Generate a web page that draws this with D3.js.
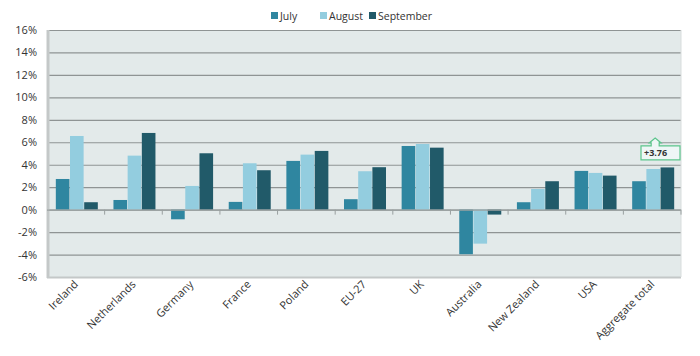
<!DOCTYPE html>
<html><head><meta charset="utf-8">
<script src="https://cdn.jsdelivr.net/npm/d3@7"></script>
<style>body{margin:0;background:#fff}svg{display:block}text{font-family:"Open Sans",sans-serif;}</style>
</head><body><div id="c"></div>
<script>
const categories = ["Ireland","Netherlands","Germany","France","Poland","EU-27","UK","Australia","New Zealand","USA","Aggregate total"];
const seriesNames = ["July","August","September"];
const july = [2.73,0.86,-0.86,0.69,4.34,0.93,5.67,-3.97,0.66,3.45,2.53];
const august = [6.56,4.81,2.11,4.13,4.90,3.42,5.85,-3.03,1.84,3.27,3.62];
const september = [0.66,6.83,5.02,3.51,5.23,3.78,5.52,-0.44,2.53,3.03,3.76];
const yTicks = [-6,-4,-2,0,2,4,6,8,10,12,14,16];
const colors = ["#2f86a0","#93cddf","#215a69"];
const annotation = {category:"Aggregate total", text:"+3.76"};

const W=700,H=356, L=47, R=681, T=30, B=277;
const svg=d3.select("#c").append("svg").attr("width",W).attr("height",H);
const x=d3.scaleBand().domain(categories).range([L,R]);
const y=d3.scaleLinear().domain([-6,16]).range([B,T]);
const xs=d3.scaleBand().domain(seriesNames).range([0,42]).paddingInner(0.04);
const data=[july,august,september];

svg.append("rect").attr("x",L).attr("y",T).attr("width",R-L).attr("height",B-T).attr("fill","#e3eaea");
svg.append("g").selectAll("line").data(yTicks).join("line")
 .attr("x1",L).attr("x2",R).attr("y1",d=>y(d)+0.5).attr("y2",d=>y(d)+0.5)
 .attr("stroke",d=>d===-6?"#c4c8c8":"#8f9494").attr("stroke-width",d=>d===-6?2:1.2);
svg.append("line").attr("x1",L+1).attr("x2",L+1).attr("y1",T).attr("y2",B+1).attr("stroke","#c4c8c8").attr("stroke-width",3);
svg.append("line").attr("x1",R).attr("x2",R).attr("y1",T).attr("y2",B).attr("stroke","#d8dddd").attr("stroke-width",1);

// bars
const g=svg.append("g");
categories.forEach((c,i)=>{
  seriesNames.forEach((s,j)=>{
    const v=data[j][i];
    g.append("rect").attr("x",x(c)+(x.bandwidth()-42)/2+1+xs(s)).attr("width",xs.bandwidth())
     .attr("y",y(Math.max(0,v))).attr("height",Math.abs(y(v)-y(0))).attr("fill",colors[j]);
  });
});
// zero line + ticks
svg.append("line").attr("x1",L).attr("x2",R).attr("y1",y(0)+0.5).attr("y2",y(0)+0.5).attr("stroke","#9aa0a0").attr("stroke-width",1.2);
svg.append("g").selectAll("line").data(categories.slice(1).concat(["_end"])).join("line")
 .attr("x1",d=>d==="_end"?R:x(d)).attr("x2",d=>d==="_end"?R:x(d)).attr("y1",y(0)).attr("y2",y(0)+5).attr("stroke","#9aa0a0");

// y labels
svg.append("g").selectAll("text").data(yTicks).join("text")
 .attr("x",37).attr("y",d=>y(d)+4).attr("text-anchor","end").attr("font-size",11).attr("fill","#333")
 .text(d=>d+"%");
// x labels
svg.append("g").selectAll("text").data(categories).join("text")
 .attr("transform",d=>`translate(${x(d)+x.bandwidth()/2+3},${B+8}) rotate(-45)`)
 .attr("text-anchor","end").attr("font-size",11).attr("fill","#333").text(d=>d);

// legend
const lg=svg.append("g");
const lx=[271,320,369];
seriesNames.forEach((s,j)=>{
  lg.append("rect").attr("x",lx[j]).attr("y",12).attr("width",7).attr("height",7).attr("fill",colors[j]);
  lg.append("text").attr("x",lx[j]+9).attr("y",19.5).attr("font-size",10.5).attr("fill","#333").text(s);
});

// annotation
const ai=categories.indexOf(annotation.category);
const av=september[ai];
const ax=x(annotation.category)+x.bandwidth()/2+3;
const bx0=641,bx1=680,by0=y(av)-21.5,by1=y(av)-7.5;
const ag=svg.append("g");
ag.append("path").attr("d",`M${bx0},${by0} L${ax-4},${by0} L${ax-4},${by0-3} L${ax-6},${by0-3} L${ax},${by0-8} L${ax+6},${by0-3} L${ax+4},${by0-3} L${ax+4},${by0} L${bx1},${by0} L${bx1},${by1} L${bx0},${by1} Z`)
 .attr("fill","#eef6f6").attr("stroke","#5cc58c").attr("stroke-width",1.2);
ag.append("text").attr("x",bx0+3).attr("y",by1-3.5).attr("font-size",9).attr("font-weight","bold").attr("fill","#333").text(annotation.text);
</script></body></html>
